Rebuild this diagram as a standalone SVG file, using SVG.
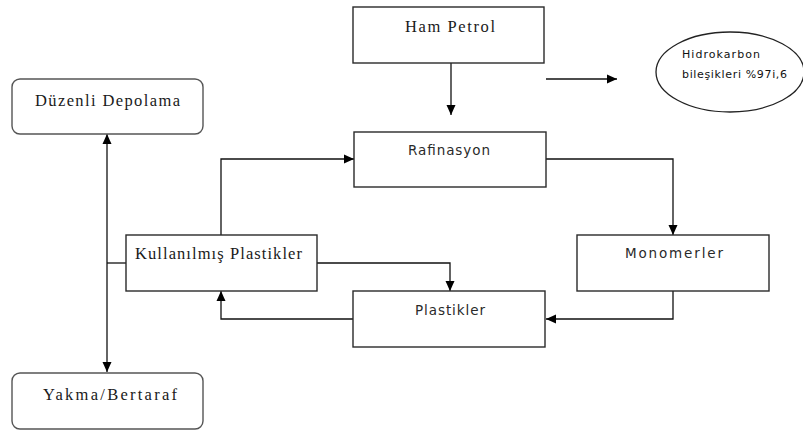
<svg xmlns="http://www.w3.org/2000/svg" width="803" height="432" viewBox="0 0 803 432">
  <style>
    .box { fill: #ffffff; stroke: #2a2a2a; stroke-width: 1.4; }
    .rbox { fill: #ffffff; stroke: #555555; stroke-width: 1.4; }
    .serif { font-family: "Liberation Serif", "Times New Roman", "DejaVu Serif", serif; font-size: 16.5px; font-weight: normal; fill: #1a1a1a; }
    .sans { font-family: "DejaVu Sans", Verdana, sans-serif; font-size: 13.5px; fill: #2a2a2a; }
    .small { font-family: "DejaVu Sans", Verdana, sans-serif; font-size: 11px; fill: #111111; }
    .link { fill: none; stroke: #111111; stroke-width: 1.3; marker-end: url(#arrow); }
    .plain { fill: none; stroke: #111111; stroke-width: 1.3; }
  </style>
  <defs>
    <marker id="arrow" viewBox="0 0 10 10" refX="10" refY="5" markerWidth="10" markerHeight="10" markerUnits="userSpaceOnUse" orient="auto">
      <path d="M0,0.5 L10,5 L0,9.5 Z" fill="#000000"/>
    </marker>
  </defs>

  <g id="connectors">
    <path class="link" d="M451,63 V115"/>
    <path class="link" d="M546,79 H617"/>
    <path class="link" d="M221,235 V159 H354"/>
    <path class="link" d="M546,159 H673 V235"/>
    <path class="link" d="M673,291 V319 H546"/>
    <path class="link" d="M354,319 H221 V291"/>
    <path class="link" d="M317,263 H450 V291"/>
    <path class="link" d="M107,250 V134"/>
    <path class="link" d="M107,250 V372"/>
    <path class="plain" d="M107,263 H126"/>
  </g>

  <g id="ham-petrol">
    <rect class="box" x="353" y="7" width="191" height="56"/>
    <text class="serif" x="405" y="32" textLength="90" lengthAdjust="spacing">Ham Petrol</text>
  </g>

  <g id="hidrokarbon">
    <ellipse cx="730" cy="72" rx="74" ry="40" fill="#ffffff" stroke="#222222" stroke-width="1.3"/>
    <text class="small" x="682" y="58" textLength="78" lengthAdjust="spacing">Hidrokarbon</text>
    <text class="small" x="682" y="78" textLength="105" lengthAdjust="spacing">bileşikleri %97i,6</text>
  </g>

  <g id="duzenli-depolama">
    <rect class="rbox" x="12" y="79" width="191" height="55" rx="8" ry="8"/>
    <text class="serif" x="35" y="106" textLength="145" lengthAdjust="spacing">Düzenli Depolama</text>
  </g>

  <g id="rafinasyon">
    <rect class="box" x="354" y="132" width="192" height="55"/>
    <text class="sans" x="408" y="155" textLength="82" lengthAdjust="spacing">Rafinasyon</text>
  </g>

  <g id="kullanilmis-plastikler">
    <rect class="box" x="126" y="235" width="191" height="56"/>
    <text class="serif" x="135" y="259" textLength="167" lengthAdjust="spacing">Kullanılmış Plastikler</text>
  </g>

  <g id="monomerler">
    <rect class="box" x="577" y="235" width="192" height="56"/>
    <text class="sans" x="625" y="258" textLength="98" lengthAdjust="spacing">Monomerler</text>
  </g>

  <g id="plastikler">
    <rect class="box" x="353" y="291" width="192" height="56"/>
    <text class="sans" x="415" y="315" textLength="70" lengthAdjust="spacing">Plastikler</text>
  </g>

  <g id="yakma-bertaraf">
    <rect class="rbox" x="12" y="373" width="191" height="56" rx="8" ry="8"/>
    <text class="serif" x="43" y="400" textLength="134" lengthAdjust="spacing">Yakma/Bertaraf</text>
  </g>
</svg>
